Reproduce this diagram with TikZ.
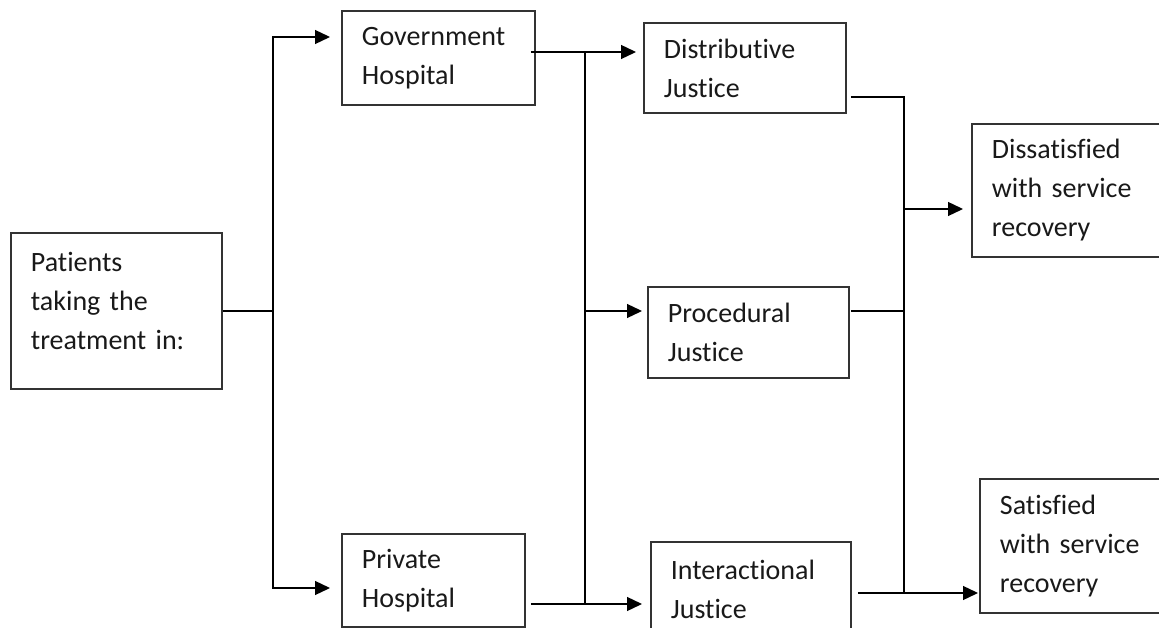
\documentclass[tikz,border=0pt]{standalone}
\usepackage{fontspec}
\setmainfont{Carlito}[Ligatures=NoCommon]
\usetikzlibrary{arrows.meta}
\tikzset{
	box/.style={draw=black!80,line width=1.8pt,anchor=north west,inner xsep=20pt,inner ysep=0pt,align=left,text=black!90},
	arr/.style={-{Triangle[length=15pt,width=14pt]}}
}
\begin{document}
\begin{tikzpicture}[x=1pt,y=-1pt,line width=1.3pt,line cap=butt,line join=miter,font=\fontsize{28}{39}\selectfont]
			\useasboundingbox (0,0) rectangle (1159,628);
			\clip (0,0) rectangle (1159,628);
			% boxes: name/left/top/width/height/text
			\foreach \nm/\x/\y/\w/\h/\txt in {
				pat/10/232/211/156/{Patients\\taking the\\treatment in:\\[-19pt]\mbox{}},
				gov/341/10/193/94/{Government\\Hospital},
				priv/341/533/183/93/{Private\\Hospital},
				dist/643/22/202/90/{Distributive\\Justice},
				proc/647/286/201/91/{Procedural\\Justice},
				inter/650/541/200/95/{Interactional\\Justice},
				diss/971/123/205/133/{Dissatisfied\\with service\\recovery},
				sat/979/478/205/134/{Satisfied\\with service\\recovery}}{
				\pgfmathsetmacro{\tw}{\w-40}
				\node[box,minimum width=\w pt,minimum height=\h pt,text width=\tw pt] (\nm) at (\x,\y) {\txt};
			}
			\path
			(273,311) coordinate (s1)
			(330,37) coordinate (govin)
			(330,588) coordinate (privin)
			(585,52) coordinate (s2)
			(585,604) coordinate (s3)
			(636,52) coordinate (distin)
			(642,311) coordinate (procin)
			(642,604) coordinate (interin)
			(904,97) coordinate (s4)
			(904,593) coordinate (s5)
			(963,209) coordinate (dissin)
			(978,593) coordinate (satin);
			% patients to hospitals
			\draw (pat.east |- s1) -- (s1);
			\draw[arr] (s1) |- (govin);
			\draw[arr] (s1) |- (privin);
			% hospitals to justice
			\draw[arr] ([xshift=-5pt]gov.east |- s2) -- (distin);
			\draw (s2) -- (s3);
			\draw[arr] (s2 |- procin) -- (procin);
			\draw[arr] ([xshift=5pt]priv.east |- s3) -- (interin);
			% justice to outcome
			\draw ([xshift=4pt]dist.east |- s4) -- (s4) -- (s5);
			\draw ([xshift=1pt]proc.east |- procin) -- (s4 |- procin);
			\draw ([xshift=6pt]inter.east |- s5) -- (s5);
			\draw[arr] (s4 |- dissin) -- (dissin);
			\draw[arr] (s5) -- (satin);
		\end{tikzpicture}
\end{document}
